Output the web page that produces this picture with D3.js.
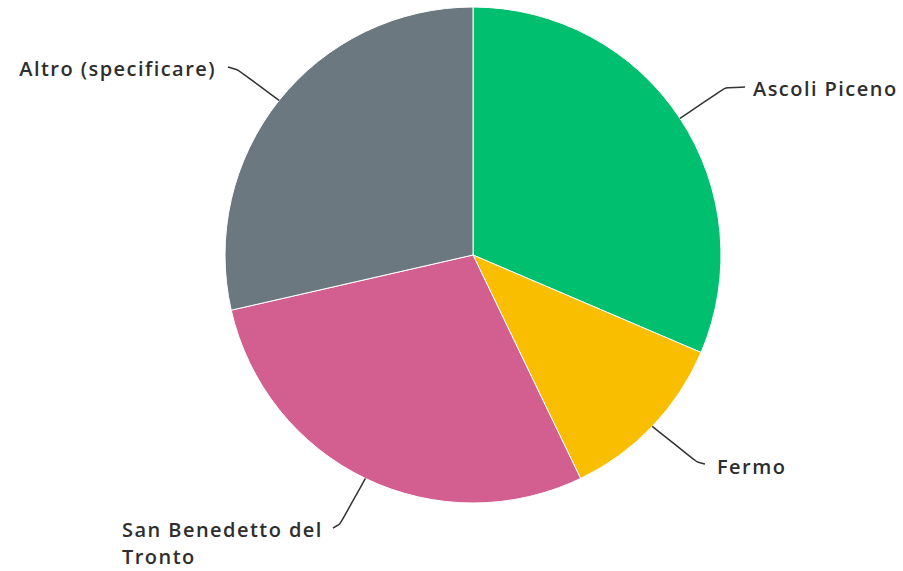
<!DOCTYPE html>
<html><head><meta charset="utf-8">
<script src="https://cdn.jsdelivr.net/npm/d3@7"></script>
<style>body{margin:0;background:#fff;} text{font-family:"Open Sans",sans-serif;}</style>
</head><body>
<svg id="chart" width="903" height="571"></svg>
<script>
const categories = ["Ascoli Piceno", "Fermo", "San Benedetto del Tronto", "Altro (specificare)"];
const values = [11, 4, 10, 10];
const colors = ["#00BF6F", "#F9BE00", "#D25F90", "#6B787F"];
const labelLines = [["Ascoli Piceno"], ["Fermo"], ["San Benedetto del", "Tronto"], ["Altro (specificare)"]];

const svg = d3.select("#chart");
const cx = 473, cy = 255, r = 248;
const g = svg.append("g").attr("transform", `translate(${cx},${cy})`);
const pie = d3.pie().sort(null).value(d => d.v);
const data = pie(categories.map((c, i) => ({c, v: values[i], col: colors[i], lines: labelLines[i]})));
const arc = d3.arc().innerRadius(0).outerRadius(r);
g.selectAll("path.slice").data(data).join("path").attr("class", "slice")
  .attr("d", arc).attr("fill", d => d.data.col).attr("stroke", "#fff").attr("stroke-width", 1);

const edge = d3.arc().innerRadius(r).outerRadius(r);
const layout = [
  {mid: [252, -167], end: [272, -168], tx: 280, ty: -159, anchor: "start"},
  {mid: [224, 207], end: [232, 209], tx: 244, ty: 219, anchor: "start"},
  {mid: [-133, 269], end: [-140, 273], tx: -351, ty: 282, anchor: "start"},
  {mid: [-235, -185], end: [-245, -188], tx: -257, ty: -179, anchor: "end"}
];
const line = d3.line().curve(d3.curveBasis);
data.forEach((d, i) => {
  const p = edge.centroid(d);
  const L = layout[i];
  g.append("path").attr("d", line([p, L.mid, L.mid, L.end])).attr("fill", "none")
    .attr("stroke", "#333").attr("stroke-width", 1.5);
  const t = g.append("text").attr("x", L.tx).attr("y", L.ty).attr("text-anchor", L.anchor)
    .attr("font-size", 20).attr("font-weight", 600).attr("letter-spacing", 1.45).attr("fill", "#2e2e2e");
  d.data.lines.forEach((s, j) => {
    t.append("tspan").attr("x", L.tx).attr("dy", j === 0 ? 0 : 27).text(s);
  });
});
</script>
</body></html>
